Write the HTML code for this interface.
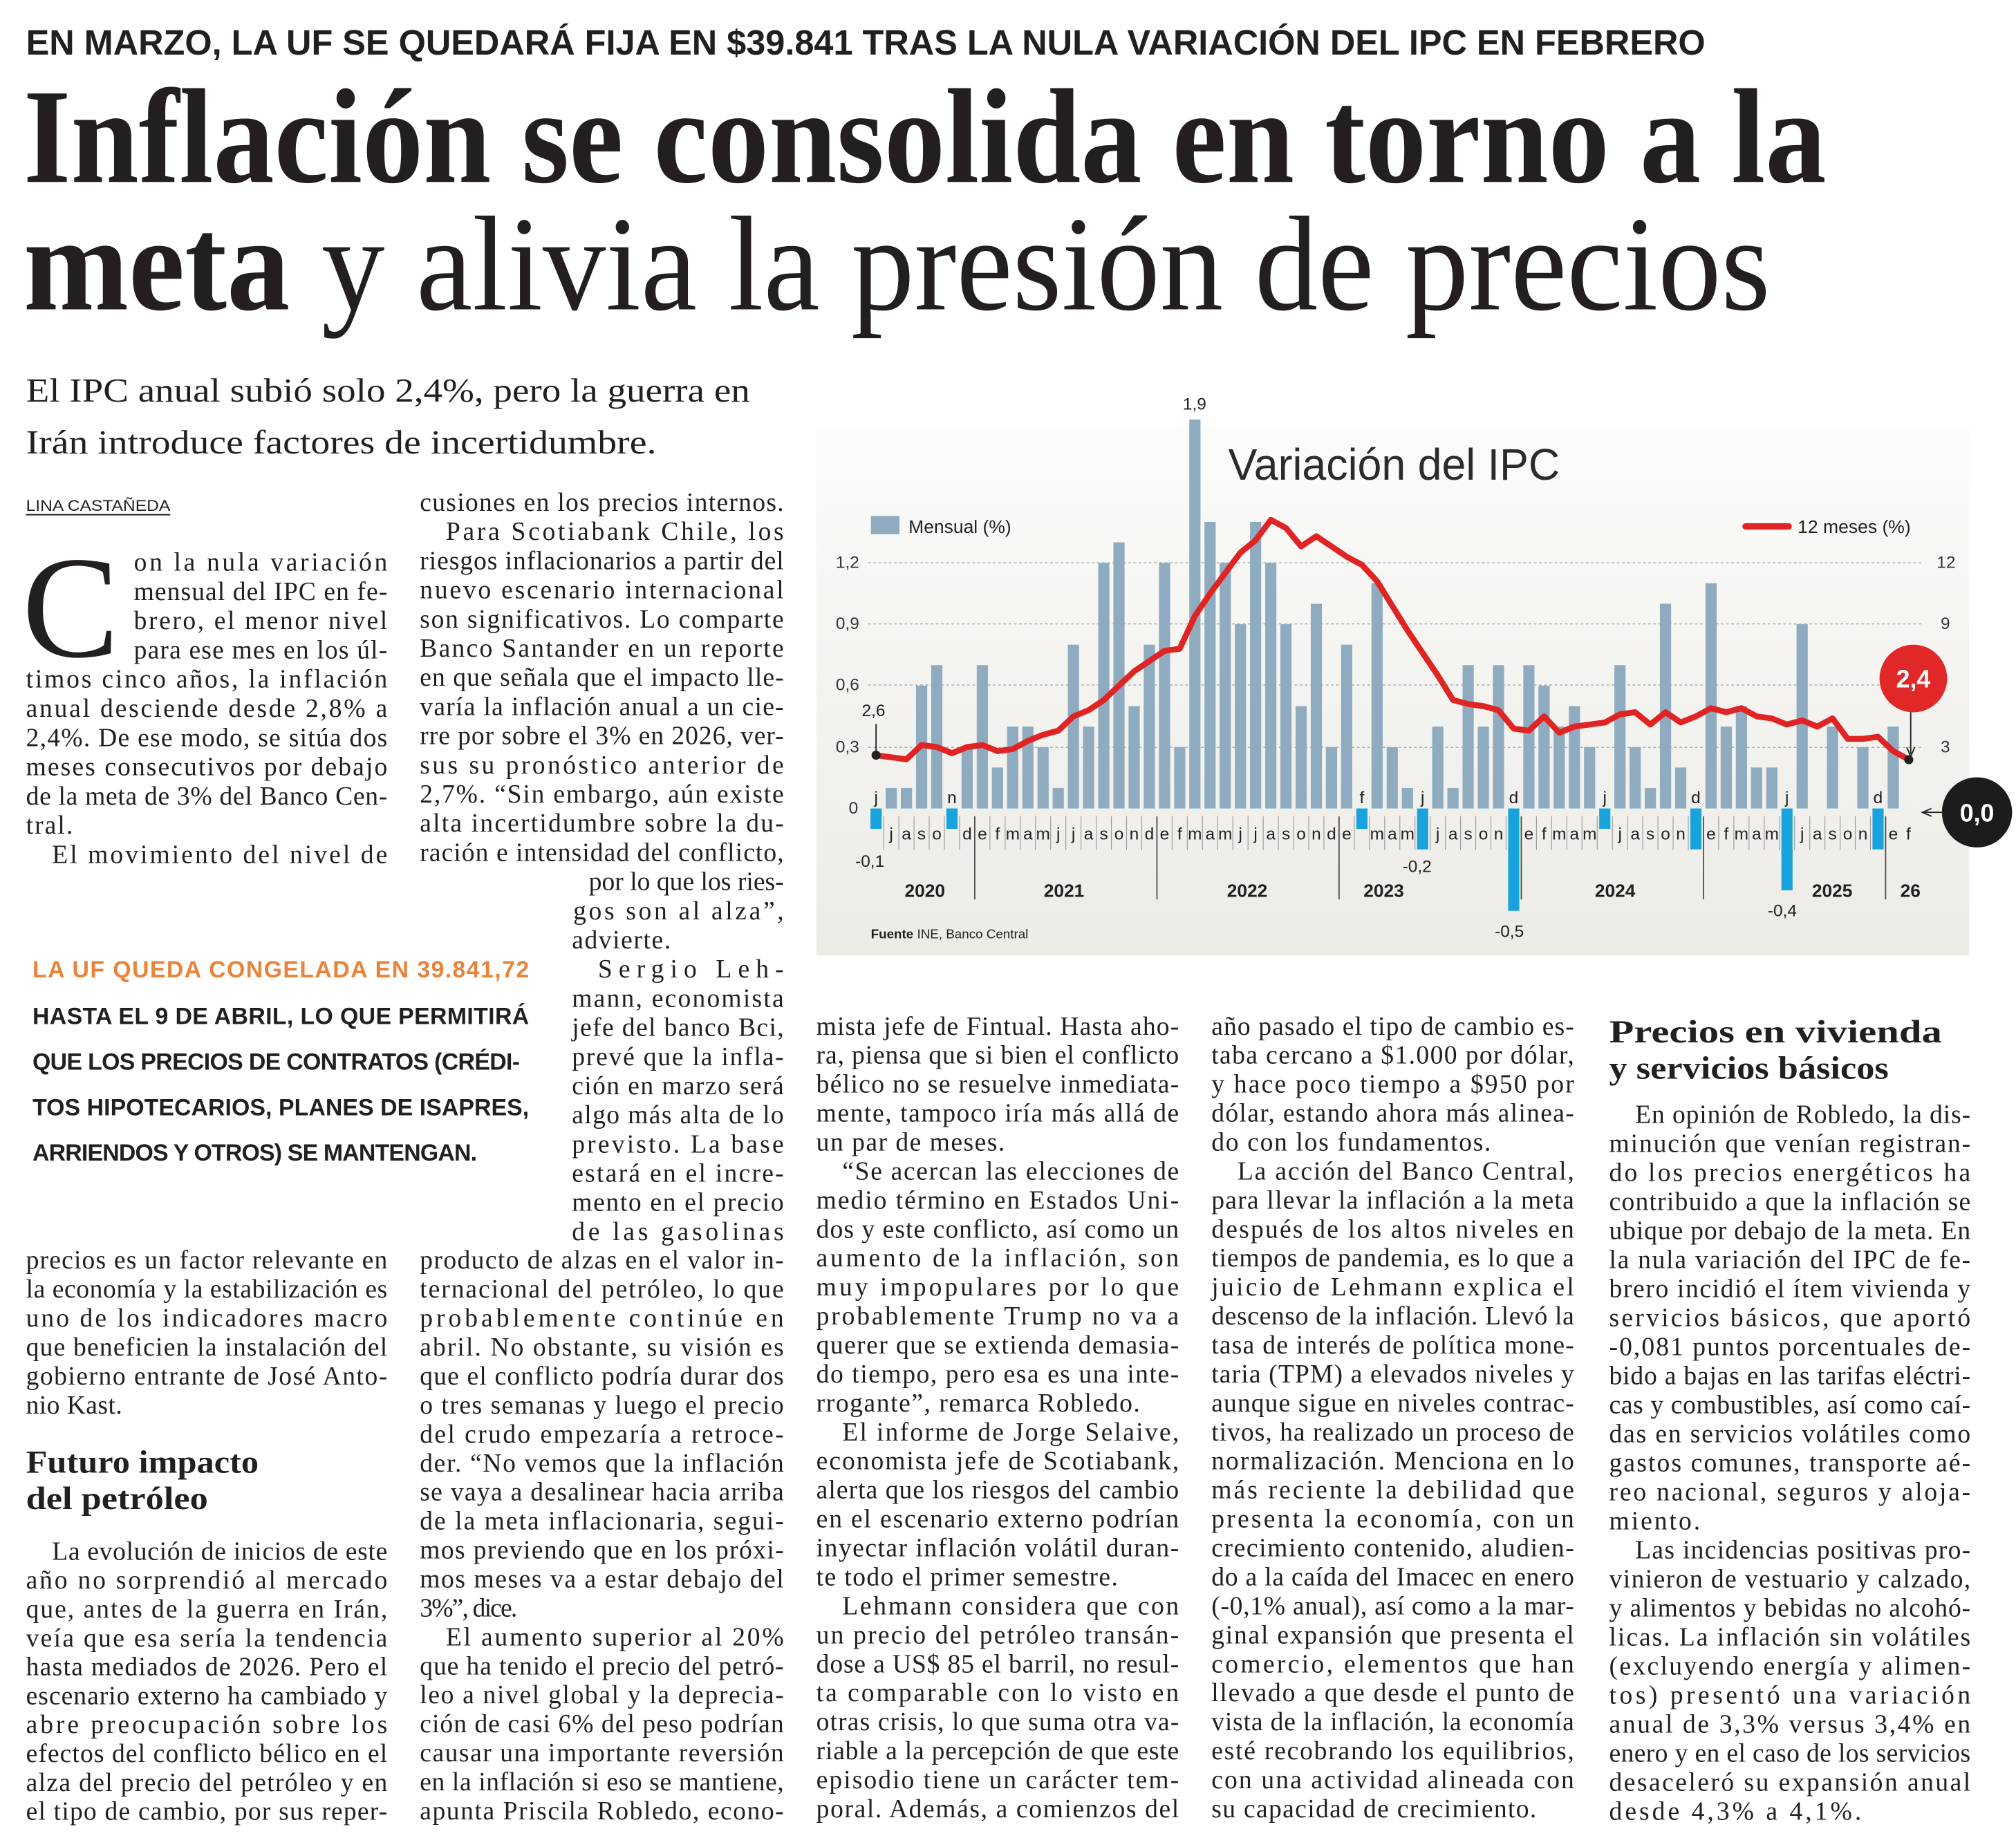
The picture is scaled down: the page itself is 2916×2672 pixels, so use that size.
<!DOCTYPE html>
<html><head><meta charset="utf-8"><style>
html,body{margin:0;padding:0;background:#fff}
svg{display:block}
.b{font-family:"Liberation Serif",serif;font-size:20px;fill:#231f20}
.s{font-family:"Liberation Sans",sans-serif}
</style></head><body>
<svg xmlns="http://www.w3.org/2000/svg" width="2916" height="2672" viewBox="0 0 1551 1421" preserveAspectRatio="none">
<rect width="1551" height="1421" fill="#fff"/>
<defs><linearGradient id="g" x1="0" y1="0" x2="0" y2="1"><stop offset="0" stop-color="#fbfbf9"/><stop offset="1" stop-color="#ecebe6"/></linearGradient></defs>
<!-- header -->
<text x="20" y="42" class="s" font-weight="bold" font-size="27" fill="#231f20" textLength="1292" lengthAdjust="spacingAndGlyphs">EN MARZO, LA UF SE QUEDARÁ FIJA EN $39.841 TRAS LA NULA VARIACIÓN DEL IPC EN FEBRERO</text>
<text x="18" y="140" font-family="Liberation Serif,serif" font-weight="bold" font-size="104" fill="#231f20" textLength="1387" lengthAdjust="spacingAndGlyphs">Inflación se consolida en torno a la</text>
<text x="18" y="238" font-family="Liberation Serif,serif" font-size="104" fill="#231f20" textLength="1344" lengthAdjust="spacingAndGlyphs"><tspan font-weight="bold">meta</tspan> y alivia la presión de precios</text>
<text x="20" y="309" font-family="Liberation Serif,serif" font-size="26" fill="#231f20" textLength="557" lengthAdjust="spacingAndGlyphs">El IPC anual subió solo 2,4%, pero la guerra en</text>
<text x="20" y="349" font-family="Liberation Serif,serif" font-size="26" fill="#231f20" textLength="485" lengthAdjust="spacingAndGlyphs">Irán introduce factores de incertidumbre.</text>
<text x="20" y="393" class="s" font-size="12" fill="#231f20" textLength="111" lengthAdjust="spacingAndGlyphs">LINA CASTAÑEDA</text>
<line x1="20" y1="396" x2="131" y2="396" stroke="#231f20" stroke-width="1"/>

<!-- col1 top -->
<text x="17" y="505" font-family="Liberation Serif,serif" font-size="112" fill="#231f20">C</text>
<g class="b" lengthAdjust="spacingAndGlyphs">
<text x="103" y="439" textLength="195">on la nula variación</text>
<text x="103" y="461.5" textLength="195">mensual del IPC en fe-</text>
<text x="103" y="484" textLength="195">brero, el menor nivel</text>
<text x="103" y="506.5" textLength="195">para ese mes en los úl-</text>
<text x="20" y="529" textLength="278">timos cinco años, la inflación</text>
<text x="20" y="551.5" textLength="278">anual desciende desde 2,8% a</text>
<text x="20" y="574" textLength="278">2,4%. De ese modo, se sitúa dos</text>
<text x="20" y="596.5" textLength="278">meses consecutivos por debajo</text>
<text x="20" y="619" textLength="278">de la meta de 3% del Banco Cen-</text>
<text x="20" y="641.5" textLength="36">tral.</text>
<text x="40" y="664" textLength="258">El movimiento del nivel de</text>
</g>
<!-- col2 top -->
<g class="b" lengthAdjust="spacingAndGlyphs">
<text x="323" y="393" textLength="280">cusiones en los precios internos.</text>
<text x="343" y="415.4" textLength="260">Para Scotiabank Chile, los</text>
<text x="323" y="437.9" textLength="280">riesgos inflacionarios a partir del</text>
<text x="323" y="460.3" textLength="280">nuevo escenario internacional</text>
<text x="323" y="482.8" textLength="280">son significativos. Lo comparte</text>
<text x="323" y="505.2" textLength="280">Banco Santander en un reporte</text>
<text x="323" y="527.6" textLength="280">en que señala que el impacto lle-</text>
<text x="323" y="550.1" textLength="280">varía la inflación anual a un cie-</text>
<text x="323" y="572.5" textLength="280">rre por sobre el 3% en 2026, ver-</text>
<text x="323" y="595" textLength="280">sus su pronóstico anterior de</text>
<text x="323" y="617.4" textLength="280">2,7%. “Sin embargo, aún existe</text>
<text x="323" y="639.8" textLength="280">alta incertidumbre sobre la du-</text>
<text x="323" y="662.3" textLength="280">ración e intensidad del conflicto,</text>
<text x="453" y="684.7" textLength="150">por lo que los ries-</text>
<text x="441" y="707.2" textLength="162">gos son al alza”,</text>
<text x="440" y="729.6" textLength="76">advierte.</text>
<text x="460" y="752" textLength="143">Sergio Leh-</text>
<text x="440" y="774.5" textLength="163">mann, economista</text>
<text x="440" y="796.9" textLength="163">jefe del banco Bci,</text>
<text x="440" y="819.4" textLength="163">prevé que la infla-</text>
<text x="440" y="841.8" textLength="163">ción en marzo será</text>
<text x="440" y="864.2" textLength="163">algo más alta de lo</text>
<text x="440" y="886.7" textLength="163">previsto. La base</text>
<text x="440" y="909.1" textLength="163">estará en el incre-</text>
<text x="440" y="931.6" textLength="163">mento en el precio</text>
<text x="440" y="954" textLength="163">de las gasolinas</text>
</g>
<!-- pull quote -->
<g class="s" font-weight="bold" font-size="18" lengthAdjust="spacingAndGlyphs">
<text x="25" y="752" fill="#e8843a" textLength="382">LA UF QUEDA CONGELADA EN 39.841,72</text>
<text x="25" y="788" fill="#231f20" textLength="382">HASTA EL 9 DE ABRIL, LO QUE PERMITIRÁ</text>
<text x="25" y="823" fill="#231f20" textLength="375">QUE LOS PRECIOS DE CONTRATOS (CRÉDI-</text>
<text x="25" y="858" fill="#231f20" textLength="382">TOS HIPOTECARIOS, PLANES DE ISAPRES,</text>
<text x="25" y="893" fill="#231f20" textLength="342">ARRIENDOS Y OTROS) SE MANTENGAN.</text>
</g>
<!-- col1 bottom -->
<g class="b" lengthAdjust="spacingAndGlyphs">
<text x="20" y="976" textLength="278">precios es un factor relevante en</text>
<text x="20" y="998.3" textLength="278">la economía y la estabilización es</text>
<text x="20" y="1020.6" textLength="278">uno de los indicadores macro</text>
<text x="20" y="1042.9" textLength="278">que beneficien la instalación del</text>
<text x="20" y="1065.2" textLength="278">gobierno entrante de José Anto-</text>
<text x="20" y="1087.5" textLength="74">nio Kast.</text>
</g>
<text x="20" y="1133" font-family="Liberation Serif,serif" font-weight="bold" font-size="25" fill="#231f20" textLength="179" lengthAdjust="spacingAndGlyphs">Futuro impacto</text>
<text x="20" y="1161" font-family="Liberation Serif,serif" font-weight="bold" font-size="25" fill="#231f20" textLength="140" lengthAdjust="spacingAndGlyphs">del petróleo</text>
<g class="b" lengthAdjust="spacingAndGlyphs">
<text x="40" y="1200" textLength="258">La evolución de inicios de este</text>
<text x="20" y="1222.2" textLength="278">año no sorprendió al mercado</text>
<text x="20" y="1244.4" textLength="278">que, antes de la guerra en Irán,</text>
<text x="20" y="1266.7" textLength="278">veía que esa sería la tendencia</text>
<text x="20" y="1288.9" textLength="278">hasta mediados de 2026. Pero el</text>
<text x="20" y="1311.1" textLength="278">escenario externo ha cambiado y</text>
<text x="20" y="1333.3" textLength="278">abre preocupación sobre los</text>
<text x="20" y="1355.6" textLength="278">efectos del conflicto bélico en el</text>
<text x="20" y="1377.8" textLength="278">alza del precio del petróleo y en</text>
<text x="20" y="1400" textLength="278">el tipo de cambio, por sus reper-</text>
</g>
<!-- col2 bottom -->
<g class="b" lengthAdjust="spacingAndGlyphs">
<text x="323" y="976" textLength="280">producto de alzas en el valor in-</text>
<text x="323" y="998.3" textLength="280">ternacional del petróleo, lo que</text>
<text x="323" y="1020.6" textLength="280">probablemente continúe en</text>
<text x="323" y="1042.9" textLength="280">abril. No obstante, su visión es</text>
<text x="323" y="1065.2" textLength="280">que el conflicto podría durar dos</text>
<text x="323" y="1087.5" textLength="280">o tres semanas y luego el precio</text>
<text x="323" y="1109.8" textLength="280">del crudo empezaría a retroce-</text>
<text x="323" y="1132.1" textLength="280">der. “No vemos que la inflación</text>
<text x="323" y="1154.4" textLength="280">se vaya a desalinear hacia arriba</text>
<text x="323" y="1176.7" textLength="280">de la meta inflacionaria, segui-</text>
<text x="323" y="1199" textLength="280">mos previendo que en los próxi-</text>
<text x="323" y="1221.3" textLength="280">mos meses va a estar debajo del</text>
<text x="323" y="1243.6" textLength="75">3%”, dice.</text>
<text x="343" y="1265.9" textLength="260">El aumento superior al 20%</text>
<text x="323" y="1288.2" textLength="280">que ha tenido el precio del petró-</text>
<text x="323" y="1310.5" textLength="280">leo a nivel global y la deprecia-</text>
<text x="323" y="1332.8" textLength="280">ción de casi 6% del peso podrían</text>
<text x="323" y="1355.1" textLength="280">causar una importante reversión</text>
<text x="323" y="1377.4" textLength="280">en la inflación si eso se mantiene,</text>
<text x="323" y="1399.7" textLength="280">apunta Priscila Robledo, econo-</text>
</g>
<!-- col3 -->
<g class="b" lengthAdjust="spacingAndGlyphs">
<text x="628" y="796" textLength="279">mista jefe de Fintual. Hasta aho-</text>
<text x="628" y="818.3" textLength="279">ra, piensa que si bien el conflicto</text>
<text x="628" y="840.6" textLength="279">bélico no se resuelve inmediata-</text>
<text x="628" y="862.9" textLength="279">mente, tampoco iría más allá de</text>
<text x="628" y="885.2" textLength="145">un par de meses.</text>
<text x="648" y="907.5" textLength="259">“Se acercan las elecciones de</text>
<text x="628" y="929.8" textLength="279">medio término en Estados Uni-</text>
<text x="628" y="952.1" textLength="279">dos y este conflicto, así como un</text>
<text x="628" y="974.4" textLength="279">aumento de la inflación, son</text>
<text x="628" y="996.7" textLength="279">muy impopulares por lo que</text>
<text x="628" y="1019" textLength="279">probablemente Trump no va a</text>
<text x="628" y="1041.3" textLength="279">querer que se extienda demasia-</text>
<text x="628" y="1063.6" textLength="279">do tiempo, pero esa es una inte-</text>
<text x="628" y="1085.9" textLength="249">rrogante”, remarca Robledo.</text>
<text x="648" y="1108.2" textLength="259">El informe de Jorge Selaive,</text>
<text x="628" y="1130.5" textLength="279">economista jefe de Scotiabank,</text>
<text x="628" y="1152.8" textLength="279">alerta que los riesgos del cambio</text>
<text x="628" y="1175.1" textLength="279">en el escenario externo podrían</text>
<text x="628" y="1197.4" textLength="279">inyectar inflación volátil duran-</text>
<text x="628" y="1219.7" textLength="232">te todo el primer semestre.</text>
<text x="648" y="1242" textLength="259">Lehmann considera que con</text>
<text x="628" y="1264.3" textLength="279">un precio del petróleo transán-</text>
<text x="628" y="1286.6" textLength="279">dose a US$ 85 el barril, no resul-</text>
<text x="628" y="1308.9" textLength="279">ta comparable con lo visto en</text>
<text x="628" y="1331.2" textLength="279">otras crisis, lo que suma otra va-</text>
<text x="628" y="1353.5" textLength="279">riable a la percepción de que este</text>
<text x="628" y="1375.8" textLength="279">episodio tiene un carácter tem-</text>
<text x="628" y="1398.1" textLength="279">poral. Además, a comienzos del</text>
</g>
<!-- col4 -->
<g class="b" lengthAdjust="spacingAndGlyphs">
<text x="932" y="796" textLength="279">año pasado el tipo de cambio es-</text>
<text x="932" y="818.3" textLength="279">taba cercano a $1.000 por dólar,</text>
<text x="932" y="840.6" textLength="279">y hace poco tiempo a $950 por</text>
<text x="932" y="862.9" textLength="279">dólar, estando ahora más alinea-</text>
<text x="932" y="885.2" textLength="215">do con los fundamentos.</text>
<text x="952" y="907.5" textLength="259">La acción del Banco Central,</text>
<text x="932" y="929.8" textLength="279">para llevar la inflación a la meta</text>
<text x="932" y="952.1" textLength="279">después de los altos niveles en</text>
<text x="932" y="974.4" textLength="279">tiempos de pandemia, es lo que a</text>
<text x="932" y="996.7" textLength="279">juicio de Lehmann explica el</text>
<text x="932" y="1019" textLength="279">descenso de la inflación. Llevó la</text>
<text x="932" y="1041.3" textLength="279">tasa de interés de política mone-</text>
<text x="932" y="1063.6" textLength="279">taria (TPM) a elevados niveles y</text>
<text x="932" y="1085.9" textLength="279">aunque sigue en niveles contrac-</text>
<text x="932" y="1108.2" textLength="279">tivos, ha realizado un proceso de</text>
<text x="932" y="1130.5" textLength="279">normalización. Menciona en lo</text>
<text x="932" y="1152.8" textLength="279">más reciente la debilidad que</text>
<text x="932" y="1175.1" textLength="279">presenta la economía, con un</text>
<text x="932" y="1197.4" textLength="279">crecimiento contenido, aludien-</text>
<text x="932" y="1219.7" textLength="279">do a la caída del Imacec en enero</text>
<text x="932" y="1242" textLength="279">(-0,1% anual), así como a la mar-</text>
<text x="932" y="1264.3" textLength="279">ginal expansión que presenta el</text>
<text x="932" y="1286.6" textLength="279">comercio, elementos que han</text>
<text x="932" y="1308.9" textLength="279">llevado a que desde el punto de</text>
<text x="932" y="1331.2" textLength="279">vista de la inflación, la economía</text>
<text x="932" y="1353.5" textLength="279">esté recobrando los equilibrios,</text>
<text x="932" y="1375.8" textLength="279">con una actividad alineada con</text>
<text x="932" y="1398.1" textLength="250">su capacidad de crecimiento.</text>
</g>
<!-- col5 -->
<text x="1238" y="802" font-family="Liberation Serif,serif" font-weight="bold" font-size="25" fill="#231f20" textLength="256" lengthAdjust="spacingAndGlyphs">Precios en vivienda</text>
<text x="1238" y="830" font-family="Liberation Serif,serif" font-weight="bold" font-size="25" fill="#231f20" textLength="215" lengthAdjust="spacingAndGlyphs">y servicios básicos</text>
<g class="b" lengthAdjust="spacingAndGlyphs">
<text x="1258" y="864" textLength="258">En opinión de Robledo, la dis-</text>
<text x="1238" y="886.3" textLength="278">minución que venían registran-</text>
<text x="1238" y="908.7" textLength="278">do los precios energéticos ha</text>
<text x="1238" y="931" textLength="278">contribuido a que la inflación se</text>
<text x="1238" y="953.3" textLength="278">ubique por debajo de la meta. En</text>
<text x="1238" y="975.7" textLength="278">la nula variación del IPC de fe-</text>
<text x="1238" y="998" textLength="278">brero incidió el ítem vivienda y</text>
<text x="1238" y="1020.3" textLength="278">servicios básicos, que aportó</text>
<text x="1238" y="1042.7" textLength="278">-0,081 puntos porcentuales de-</text>
<text x="1238" y="1065" textLength="278">bido a bajas en las tarifas eléctri-</text>
<text x="1238" y="1087.3" textLength="278">cas y combustibles, así como caí-</text>
<text x="1238" y="1109.7" textLength="278">das en servicios volátiles como</text>
<text x="1238" y="1132" textLength="278">gastos comunes, transporte aé-</text>
<text x="1238" y="1154.3" textLength="278">reo nacional, seguros y aloja-</text>
<text x="1238" y="1176.7" textLength="70">miento.</text>
<text x="1258" y="1199" textLength="258">Las incidencias positivas pro-</text>
<text x="1238" y="1221.3" textLength="278">vinieron de vestuario y calzado,</text>
<text x="1238" y="1243.7" textLength="278">y alimentos y bebidas no alcohó-</text>
<text x="1238" y="1266" textLength="278">licas. La inflación sin volátiles</text>
<text x="1238" y="1288.3" textLength="278">(excluyendo energía y alimen-</text>
<text x="1238" y="1310.7" textLength="278">tos) presentó una variación</text>
<text x="1238" y="1333" textLength="278">anual de 3,3% versus 3,4% en</text>
<text x="1238" y="1355.3" textLength="278">enero y en el caso de los servicios</text>
<text x="1238" y="1377.7" textLength="278">desaceleró su expansión anual</text>
<text x="1238" y="1400" textLength="194">desde 4,3% a 4,1%.</text>
</g>

<!-- CHART -->
<rect x="628" y="330" width="887" height="405" fill="url(#g)"/>
<text x="945" y="369" class="s" font-size="34" fill="#2b2b2b" textLength="255" lengthAdjust="spacingAndGlyphs">Variación del IPC</text>
<rect x="670" y="397" width="22" height="14" fill="#8fabc0"/>
<text x="699" y="410" class="s" font-size="14" fill="#231f20" textLength="79" lengthAdjust="spacingAndGlyphs">Mensual (%)</text>
<line x1="1343" y1="405" x2="1376" y2="405" stroke="#e02424" stroke-width="5" stroke-linecap="round"/>
<text x="1383" y="410" class="s" font-size="14" fill="#231f20" textLength="87" lengthAdjust="spacingAndGlyphs">12 meses (%)</text>
<g stroke="#9aa" stroke-width="0.7" stroke-dasharray="2,2">
<line x1="668" y1="433" x2="1478" y2="433"/><line x1="668" y1="480" x2="1478" y2="480"/>
<line x1="668" y1="527" x2="1478" y2="527"/><line x1="668" y1="575" x2="1478" y2="575"/>
</g>
<g class="s" font-size="13" fill="#333">
<text x="643" y="437">1,2</text><text x="643" y="484">0,9</text><text x="643" y="531">0,6</text><text x="643" y="579">0,3</text><text x="653" y="626">0</text>
<text x="1490" y="437">12</text><text x="1493" y="484">9</text><text x="1493" y="579">3</text>
</g>
<!-- positive bars -->
<g transform="translate(0,622) scale(1,-157.5)" fill="#8fabc0">
<rect x="681.38" width="8.6" height=".1"/><rect x="693.06" width="8.6" height=".1"/><rect x="704.74" width="8.6" height=".6"/><rect x="716.42" width="8.6" height=".7"/><rect x="739.78" width="8.6" height=".3"/>
<rect x="751.46" width="8.6" height=".7"/><rect x="763.14" width="8.6" height=".2"/><rect x="774.82" width="8.6" height=".4"/><rect x="786.5" width="8.6" height=".4"/><rect x="798.18" width="8.6" height=".3"/><rect x="809.86" width="8.6" height=".1"/><rect x="821.54" width="8.6" height=".8"/><rect x="833.22" width="8.6" height=".4"/><rect x="844.9" width="8.6" height="1.2"/><rect x="856.58" width="8.6" height="1.3"/><rect x="868.26" width="8.6" height=".5"/><rect x="879.94" width="8.6" height=".8"/>
<rect x="891.62" width="8.6" height="1.2"/><rect x="903.3" width="8.6" height=".3"/><rect x="914.98" width="8.6" height="1.9"/><rect x="926.66" width="8.6" height="1.4"/><rect x="938.34" width="8.6" height="1.2"/><rect x="950.02" width="8.6" height=".9"/><rect x="961.7" width="8.6" height="1.4"/><rect x="973.38" width="8.6" height="1.2"/><rect x="985.06" width="8.6" height=".9"/><rect x="996.74" width="8.6" height=".5"/><rect x="1008.42" width="8.6" height="1.0"/><rect x="1020.1" width="8.6" height=".3"/>
<rect x="1031.78" width="8.6" height=".8"/><rect x="1055.14" width="8.6" height="1.1"/><rect x="1066.82" width="8.6" height=".3"/><rect x="1078.5" width="8.6" height=".1"/><rect x="1101.86" width="8.6" height=".4"/><rect x="1113.54" width="8.6" height=".1"/><rect x="1125.22" width="8.6" height=".7"/><rect x="1136.9" width="8.6" height=".4"/><rect x="1148.58" width="8.6" height=".7"/>
<rect x="1171.94" width="8.6" height=".7"/><rect x="1183.62" width="8.6" height=".6"/><rect x="1195.3" width="8.6" height=".4"/><rect x="1206.98" width="8.6" height=".5"/><rect x="1218.66" width="8.6" height=".3"/><rect x="1242.02" width="8.6" height=".7"/><rect x="1253.7" width="8.6" height=".3"/><rect x="1265.38" width="8.6" height=".1"/><rect x="1277.06" width="8.6" height="1.0"/><rect x="1288.74" width="8.6" height=".2"/>
<rect x="1312.1" width="8.6" height="1.1"/><rect x="1323.78" width="8.6" height=".4"/><rect x="1335.46" width="8.6" height=".5"/><rect x="1347.14" width="8.6" height=".2"/><rect x="1358.82" width="8.6" height=".2"/><rect x="1382.18" width="8.6" height=".9"/><rect x="1405.54" width="8.6" height=".4"/><rect x="1428.9" width="8.6" height=".3"/>
<rect x="1452.26" width="8.6" height=".4"/>
</g>
<!-- negative bars -->
<g transform="translate(0,622) scale(1,-157.5)" fill="#18a3dd">
<rect x="669.7" y="-.1" width="8.6" height=".1"/><rect x="728.1" y="-.1" width="8.6" height=".1"/><rect x="1043.46" y="-.1" width="8.6" height=".1"/><rect x="1090.18" y="-.2" width="8.6" height=".2"/><rect x="1160.26" y="-.5" width="8.6" height=".5"/><rect x="1230.34" y="-.1" width="8.6" height=".1"/><rect x="1300.42" y="-.2" width="8.6" height=".2"/><rect x="1370.5" y="-.4" width="8.6" height=".4"/><rect x="1440.58" y="-.2" width="8.6" height=".2"/>
</g>
<!-- month separators -->
<line x1="679.54" y1="641" x2="1462" y2="641" stroke="#999" stroke-width="26" stroke-dasharray="0.6,11.08"/>
<g stroke="#444" stroke-width="0.9">
<line x1="749.9" y1="628" x2="749.9" y2="692"/><line x1="890.1" y1="628" x2="890.1" y2="692"/><line x1="1030.2" y1="628" x2="1030.2" y2="692"/><line x1="1170.4" y1="628" x2="1170.4" y2="692"/><line x1="1310.6" y1="628" x2="1310.6" y2="692"/><line x1="1450.7" y1="628" x2="1450.7" y2="692"/>
</g>
<!-- month labels -->
<g class="s" font-size="13" fill="#231f20" text-anchor="middle">
<text y="618" x="674 732.4 1047.76 1094.48 1164.56 1234.64 1304.72 1374.8 1444.88">jnfjdjdjd</text>
<text y="646" x="685.68 697.36 709.04 720.72 744.08 755.76 767.44 779.12 790.8 802.48 814.16 825.84 837.52 849.2 860.88 872.56 884.24 895.92 907.6 919.28 930.96 942.64 954.32 966 977.68 989.36 1001.04 1012.72 1024.4 1036.08 1059.44 1071.12 1082.8 1106.16 1117.84 1129.52 1141.2 1152.88 1176.24 1187.92 1199.6 1211.28 1222.96 1246.32 1258 1269.68 1281.36 1293.04 1316.4 1328.08 1339.76 1351.44 1363.12 1386.48 1398.16 1409.84 1421.52 1433.2 1456.56 1468.24">jasodefmamjjasondefmamjjasondemamjasonefmamjasonefmamjasonef</text>
</g>
<g class="s" font-weight="bold" font-size="14" fill="#231f20">
<text x="696" y="690">2020</text><text x="803" y="690">2021</text><text x="944" y="690">2022</text><text x="1049" y="690">2023</text><text x="1227" y="690">2024</text><text x="1394" y="690">2025</text><text x="1462" y="690">26</text>
</g>
<g class="s" font-size="13" fill="#231f20">
<text x="910" y="315">1,9</text><text x="658" y="667">-0,1</text><text x="1079" y="671">-0,2</text><text x="1150" y="721">-0,5</text><text x="1360" y="705">-0,4</text>
<text x="663" y="551">2,6</text>
</g>
<line x1="674" y1="557" x2="674" y2="580" stroke="#222" stroke-width="1"/>
<g transform="translate(0,622) scale(1,-15.75)">
<polyline fill="none" stroke="#e02424" stroke-width="8.5" stroke-linejoin="round" vector-effect="non-scaling-stroke" points="674,2.6 685.68,2.5 697.36,2.4 709.04,3.1 720.72,3.0 732.4,2.7 744.08,3.0 755.76,3.1 767.44,2.8 779.12,2.9 790.8,3.3 802.48,3.6 814.16,3.8 825.84,4.5 837.52,4.8 849.2,5.3 860.88,6.0 872.56,6.7 884.24,7.2 895.92,7.7 907.6,7.8 919.28,9.4 930.96,10.5 942.64,11.5 954.32,12.5 966,13.1 977.68,14.1 989.36,13.7 1001.04,12.8 1012.72,13.3 1024.4,12.8 1036.08,12.3 1047.76,11.9 1059.44,11.1 1071.12,9.9 1082.8,8.7 1094.48,7.6 1106.16,6.5 1117.84,5.3 1129.52,5.1 1141.2,5.0 1152.88,4.8 1164.56,3.9 1176.24,3.8 1187.92,4.5 1199.6,3.7 1211.28,4.0 1222.96,4.1 1234.64,4.2 1246.32,4.6 1258,4.7 1269.68,4.1 1281.36,4.7 1293.04,4.2 1304.72,4.5 1316.4,4.9 1328.08,4.7 1339.76,4.9 1351.44,4.5 1363.12,4.4 1374.8,4.1 1386.48,4.3 1398.16,4.0 1409.84,4.4 1421.52,3.4 1433.2,3.4 1444.88,3.5 1456.56,2.8 1468.24,2.4"/>
</g>
<circle cx="674" cy="581" r="3.5" fill="#222"/>
<circle cx="1472" cy="522" r="26" fill="#e02828"/>
<text x="1472" y="529" text-anchor="middle" class="s" font-weight="bold" font-size="19" fill="#fff">2,4</text>
<line x1="1470" y1="548" x2="1470" y2="580" stroke="#222" stroke-width="1"/>
<path d="M1467 575 L1470 582 L1473 575" fill="none" stroke="#222" stroke-width="1"/>
<circle cx="1468.5" cy="584.5" r="3.5" fill="#222"/>
<circle cx="1521" cy="625" r="27" fill="#1c1c1c"/>
<text x="1521" y="632" text-anchor="middle" class="s" font-weight="bold" font-size="19" fill="#fff">0,0</text>
<line x1="1480" y1="625" x2="1494" y2="625" stroke="#222" stroke-width="1"/>
<path d="M1486 622 L1479 625 L1486 628" fill="none" stroke="#222" stroke-width="1"/>
<text x="670" y="722" class="s" font-size="10" fill="#231f20"><tspan font-weight="bold">Fuente</tspan>  INE, Banco Central</text>
</svg>
</body></html>
